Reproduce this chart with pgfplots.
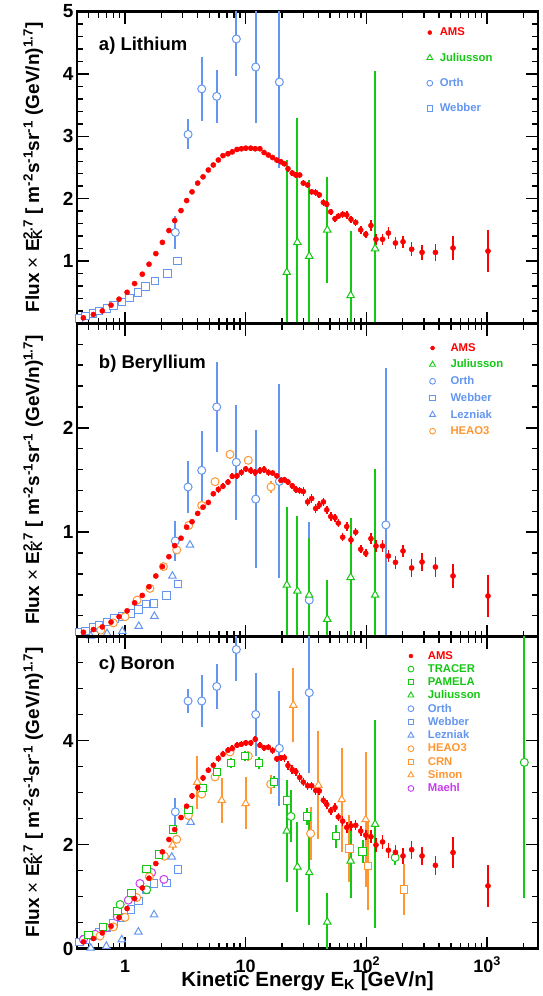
\documentclass[border=0pt]{standalone}
\usepackage{fontspec}
\setmainfont{Liberation Sans}
\usepackage{pgfplots}
\pgfplotsset{compat=1.18}

\definecolor{amsred}{RGB}{255,0,0}
\definecolor{jgreen}{RGB}{20,200,20}
\definecolor{oblue}{RGB}{100,150,240}
\definecolor{horange}{RGB}{255,150,50}
\definecolor{mpurple}{RGB}{200,60,240}

\newcommand{\ylab}{Flux {\mdseries×} E\makebox[0pt][l]{\textsubscript{K}}\textsuperscript{2.7} [ m\textsuperscript{-2}s\textsuperscript{-1}sr\textsuperscript{-1} (GeV/n)\textsuperscript{1.7}]}

\pgfplotsset{
  every axis/.append style={scale only axis, width=461pt, xmode=log, xmin=0.4, xmax=2640,
    xtick={1,10,100,1000},
    minor xtick={0.4,0.5,0.6,0.7,0.8,0.9,2,3,4,5,6,7,8,9,20,30,40,50,60,70,80,90,200,300,400,500,600,700,800,900,2000},
    tick align=inside,
    major tick length=12pt, minor tick length=6pt,
    tick style={black, line width=1.5pt},
    axis line style={line width=2.2pt},
    yticklabel style={font=\bfseries\fontsize{19}{19}\selectfont},
    xticklabel style={font=\bfseries\fontsize{18}{18}\selectfont},
    ylabel style={font=\bfseries\fontsize{19}{19}\selectfont, at={(axis description cs:-0.095,0.5)}, anchor=center},
    legend style={draw=none, fill=none, font=\bfseries\fontsize{11.3}{11.3}\selectfont, legend cell align=left, anchor=north west}},
  myams/.style={only marks, mark=*, mark size=2.6pt, color=amsred},
  myoc/.style={only marks, mark=*, mark size=4pt, mark options={fill=white, line width=1pt}},
  mysq/.style={only marks, mark=square*, mark size=3.7pt, mark options={fill=white, line width=1pt}},
  mytr/.style={only marks, mark=triangle*, mark size=4.3pt, mark options={fill=white, line width=1pt}},
  lgams/.style={only marks, mark=*, mark size=2pt, color=amsred},
  lgoc/.style={only marks, mark=o, mark size=2.9pt, line width=0.9pt},
  lgsq/.style={only marks, mark=square, mark size=2.8pt, line width=0.9pt},
  lgtr/.style={only marks, mark=triangle, mark size=3.4pt, line width=0.9pt},
}

\begin{document}
\begin{tikzpicture}
\useasboundingbox (0,0) rectangle (542pt,-996pt);

% ---------------- a) Lithium ----------------
\begin{axis}[at={(77pt,-323.5pt)}, anchor=south west, height=312pt,
  ymin=0, ymax=5, ytick={1,2,3,4,5}, yticklabels={1,2,3,4,5},
  minor ytick={0.2,0.4,0.6,0.8,1.2,1.4,1.6,1.8,2.2,2.4,2.6,2.8,3.2,3.4,3.6,3.8,4.2,4.4,4.6,4.8},
  xticklabels={,,,}, ylabel={\ylab},
  legend style={at={(rel axis cs:0.752,0.961)}, row sep=11.7pt, column sep=5pt}]
\addlegendimage{lgams}\addlegendentry{\textcolor{amsred}{AMS}}
\addlegendimage{lgtr, jgreen}\addlegendentry{\textcolor{jgreen}{Juliusson}}
\addlegendimage{lgoc, oblue}\addlegendentry{\textcolor{oblue}{Orth}}
\addlegendimage{lgsq, oblue}\addlegendentry{\textcolor{oblue}{Webber}}
\node[anchor=west, font=\bfseries\fontsize{18.5}{18.5}\selectfont] at (rel axis cs:0.04,0.89) {a) Lithium};

\addplot[mysq, oblue, forget plot] coordinates {
(0.416,0.08) (0.47,0.12) (0.54,0.16) (0.61,0.20) (0.71,0.24) (0.80,0.29) (0.94,0.34) (1.09,0.41) (1.28,0.50) (1.48,0.59) (1.77,0.68) (2.24,0.80) (2.73,1.00)};
\addplot[myoc, oblue, forget plot, error bars/.cd, y dir=both, y explicit, error mark=none, error bar style={line width=1.8pt}] coordinates {
(2.61,1.46)+-(0,0.26) (3.33,3.03)+-(0,0.24) (4.32,3.76)+-(0,0.51) (5.75,3.64)+-(0,0.43) (8.36,4.56)+-(0,0.6) (12.1,4.11)+-(0,0.9) (19.0,3.87)+-(0,1.38)};
\addplot[mytr, jgreen, forget plot, error bars/.cd, y dir=both, y explicit, error mark=none, error bar style={line width=1.8pt}] coordinates {
(21.9,0.82)+-(0,1.8) (26.8,1.30)+-(0,2.0) (33.6,1.08)+-(0,1.22) (47.4,1.50)+-(0,0.85) (74.0,0.45)+-(0,1.03) (118,1.20)+-(0,2.84)};
\addplot[myams, forget plot, error bars/.cd, y dir=both, y explicit, error mark=none, error bar style={line width=1.6pt}] coordinates {
(0.452,0.09)+-(0,0.02) (0.547,0.144)+-(0,0.02) (0.648,0.202)+-(0,0.02) (0.766,0.294)+-(0,0.02) (0.892,0.39)+-(0,0.02) (1.04,0.50)+-(0,0.02) (1.20,0.64)+-(0,0.02) (1.39,0.79)+-(0,0.02) (1.58,0.95)+-(0,0.02) (1.80,1.12)+-(0,0.02)
(2.04,1.30)+-(0,0.03) (2.31,1.49)+-(0,0.03) (2.58,1.65)+-(0,0.03) (2.91,1.81)+-(0,0.03) (3.24,1.97)+-(0,0.03) (3.59,2.11)+-(0,0.03) (4.00,2.25)+-(0,0.03) (4.43,2.35)+-(0,0.03) (4.90,2.46)+-(0,0.03) (5.39,2.54)+-(0,0.03) (5.93,2.62)+-(0,0.03) (6.48,2.69)+-(0,0.03)
(7.13,2.72)+-(0,0.04) (7.74,2.75)+-(0,0.04) (8.47,2.79)+-(0,0.04) (9.20,2.80)+-(0,0.04) (10.0,2.81)+-(0,0.04) (11.0,2.81)+-(0,0.04) (12.0,2.80)+-(0,0.04) (13.1,2.80)+-(0,0.04) (14.2,2.74)+-(0,0.04) (15.4,2.70)+-(0,0.04) (16.7,2.66)+-(0,0.04) (18.1,2.62)+-(0,0.04) (19.6,2.59)+-(0,0.04) (20.9,2.56)+-(0,0.04)
(22.4,2.48)+-(0,0.05) (24.3,2.41)+-(0,0.05) (26.0,2.38)+-(0,0.05) (28.0,2.38)+-(0,0.05) (30.0,2.25)+-(0,0.05) (32.6,2.22)+-(0,0.05) (35.2,2.11)+-(0,0.05) (38.0,2.10)+-(0,0.05) (40.7,2.06)+-(0,0.05) (44.0,1.94)+-(0,0.05) (46.9,1.91)+-(0,0.05) (50.6,1.79)+-(0,0.05) (54.9,1.68)+-(0,0.05) (58.5,1.72)+-(0,0.05)
(63.6,1.75)+-(0,0.06) (68.7,1.74)+-(0,0.06) (74.5,1.67)+-(0,0.06) (81.5,1.62)+-(0,0.06) (89.7,1.50)+-(0,0.06) (98.7,1.43)+-(0,0.06)
(109,1.57)+-(0,0.09) (120,1.35)+-(0,0.09) (136,1.35)+-(0,0.09) (152,1.45)+-(0,0.09) (174,1.29)+-(0,0.10) (201,1.31)+-(0,0.10) (237,1.19)+-(0,0.11) (289,1.14)+-(0,0.12) (373,1.14)+-(0,0.14) (522,1.21)+-(0,0.19) (1017,1.16)+-(0,0.34)};
\end{axis}

% ---------------- b) Beryllium ----------------
\begin{axis}[at={(77pt,-636.5pt)}, anchor=south west, height=313pt,
  ymin=0, ymax=3, ytick={1,2}, yticklabels={1,2},
  minor ytick={0.2,0.4,0.6,0.8,1.2,1.4,1.6,1.8,2.2,2.4,2.6,2.8},
  xticklabels={,,,}, ylabel={\ylab},
  legend style={at={(rel axis cs:0.758,0.95)}, row sep=3pt, column sep=13pt}]
\addlegendimage{lgams}\addlegendentry{\textcolor{amsred}{AMS}}
\addlegendimage{lgtr, jgreen}\addlegendentry{\textcolor{jgreen}{Juliusson}}
\addlegendimage{lgoc, oblue}\addlegendentry{\textcolor{oblue}{Orth}}
\addlegendimage{lgsq, oblue}\addlegendentry{\textcolor{oblue}{Webber}}
\addlegendimage{lgtr, oblue}\addlegendentry{\textcolor{oblue}{Lezniak}}
\addlegendimage{lgoc, horange}\addlegendentry{\textcolor{horange}{HEAO3}}
\node[anchor=west, font=\bfseries\fontsize{18.5}{18.5}\selectfont] at (rel axis cs:0.04,0.87) {b) Beryllium};

\addplot[mysq, oblue, forget plot] coordinates {
(0.416,0.041) (0.47,0.054) (0.54,0.087) (0.61,0.112) (0.71,0.141) (0.815,0.173) (0.94,0.19) (1.12,0.221) (1.29,0.26) (1.49,0.31) (1.74,0.317) (2.21,0.394) (2.75,0.503)};
\addplot[mytr, oblue, forget plot] coordinates {
(0.52,0.005) (0.71,0.029) (0.95,0.051) (1.30,0.099) (1.75,0.195) (2.47,0.58) (3.45,0.878)};
\addplot[myoc, horange, forget plot, error bars/.cd, y dir=both, y explicit, error mark=none, error bar style={line width=1.8pt}] coordinates {
(0.63,0.061)+-(0,0) (0.80,0.131)+-(0,0) (1.0,0.19)+-(0,0) (1.26,0.349)+-(0,0) (1.61,0.461)+-(0,0) (2.08,0.67)+-(0,0) (2.68,0.83)+-(0,0.02) (3.37,1.064)+-(0,0.02) (4.32,1.256)+-(0,0.02) (5.57,1.484)+-(0,0.03) (7.41,1.746)+-(0,0.04) (10.5,1.689)+-(0,0.04) (16.2,1.433)+-(0,0.06)};
\addplot[myoc, oblue, forget plot, error bars/.cd, y dir=both, y explicit, error mark=none, error bar style={line width=1.8pt}] coordinates {
(2.61,0.916)+-(0,0.195) (3.33,1.433)+-(0,0.245) (4.32,1.593)+-(0,0.375) (5.75,2.20)+-(0,0.43) (8.36,1.67)+-(0,0.55) (12.1,1.317)+-(0,0.66) (19.0,1.487)+-(0,0.93) (33.6,0.349)+-(0,0.75) (145,1.07)+-(0,1.5)};
\addplot[mytr, jgreen, forget plot, error bars/.cd, y dir=both, y explicit, error mark=none, error bar style={line width=1.8pt}] coordinates {
(21.9,0.493)+-(0,0.75) (26.8,0.436)+-(0,0.72) (33.6,0.397)+-(0,0.55) (47.4,0.166)+-(0,0.375) (74.0,0.567)+-(0,0.57) (118,0.397)+-(0,1.21)};
\addplot[myams, forget plot, error bars/.cd, y dir=both, y explicit, error mark=none, error bar style={line width=1.6pt}] coordinates {
(0.452,0.041)+-(0,0.015) (0.547,0.067)+-(0,0.015) (0.648,0.092)+-(0,0.015) (0.766,0.138)+-(0,0.015) (0.892,0.19)+-(0,0.015) (1.04,0.246)+-(0,0.015) (1.20,0.323)+-(0,0.015) (1.39,0.394)+-(0,0.015) (1.58,0.477)+-(0,0.015) (1.80,0.58)+-(0,0.015)
(2.04,0.67)+-(0,0.015) (2.31,0.765)+-(0,0.015) (2.58,0.871)+-(0,0.015) (2.91,0.942)+-(0,0.015) (3.24,1.048)+-(0,0.015) (3.59,1.10)+-(0,0.015) (4.00,1.18)+-(0,0.015) (4.43,1.24)+-(0,0.015) (4.90,1.285)+-(0,0.015) (5.39,1.368)+-(0,0.015)
(5.93,1.41)+-(0,0.03) (6.48,1.44)+-(0,0.03) (7.13,1.48)+-(0,0.03) (7.74,1.535)+-(0,0.03) (8.47,1.54)+-(0,0.03) (9.20,1.573)+-(0,0.03) (10.0,1.606)+-(0,0.03) (11.0,1.59)+-(0,0.03) (12.0,1.573)+-(0,0.03) (13.1,1.59)+-(0,0.03) (14.2,1.60)+-(0,0.03) (15.4,1.573)+-(0,0.03) (16.7,1.567)+-(0,0.03) (18.1,1.54)+-(0,0.03) (19.6,1.496)+-(0,0.03) (20.9,1.503)+-(0,0.03) (22.4,1.48)+-(0,0.03) (24.3,1.445)+-(0,0.03) (26.0,1.41)+-(0,0.03) (28.0,1.40)+-(0,0.03)
(30.0,1.39)+-(0,0.04) (32.6,1.29)+-(0,0.04) (35.2,1.323)+-(0,0.04) (38.0,1.227)+-(0,0.04) (40.7,1.26)+-(0,0.04) (44.0,1.29)+-(0,0.04) (46.9,1.214)+-(0,0.04) (50.6,1.15)+-(0,0.04) (54.9,1.138)+-(0,0.04) (58.5,1.087)+-(0,0.04) (63.6,0.952)+-(0,0.04) (68.7,1.054)+-(0,0.04) (74.5,0.926)+-(0,0.04) (81.5,1.00)+-(0,0.04) (89.7,0.836)+-(0,0.04) (98.7,0.798)+-(0,0.04)
(109,0.938)+-(0,0.055) (120,0.868)+-(0,0.055) (136,0.868)+-(0,0.055) (152,0.772)+-(0,0.055) (174,0.711)+-(0,0.06) (201,0.82)+-(0,0.06) (237,0.657)+-(0,0.085) (289,0.714)+-(0,0.085) (373,0.666)+-(0,0.10) (522,0.58)+-(0,0.115) (1017,0.388)+-(0,0.2)};
\end{axis}

% ---------------- c) Boron ----------------
\begin{axis}[at={(77pt,-948.5pt)}, anchor=south west, height=312pt,
  ymin=0, ymax=6, ytick={0,2,4}, yticklabels={0,2,4},
  minor ytick={0.5,1,1.5,2.5,3,3.5,4.5,5,5.5},
  xticklabels={1,10,10\textsuperscript{2},10\textsuperscript{3}},
  xticklabel style={anchor=base, yshift=-23.5pt},
  ylabel={\ylab},
  xlabel={Kinetic Energy E\textsubscript{K} [GeV/n]},
  xlabel style={font=\bfseries\fontsize{20.5}{20.5}\selectfont, at={(axis description cs:0.5,0)}, anchor=base, yshift=-38pt},
  legend style={at={(rel axis cs:0.711,0.966)}, row sep=-0.3pt, column sep=12pt}]
\addlegendimage{lgams}\addlegendentry{\textcolor{amsred}{AMS}}
\addlegendimage{lgoc, jgreen}\addlegendentry{\textcolor{jgreen}{TRACER}}
\addlegendimage{lgsq, jgreen}\addlegendentry{\textcolor{jgreen}{PAMELA}}
\addlegendimage{lgtr, jgreen}\addlegendentry{\textcolor{jgreen}{Juliusson}}
\addlegendimage{lgoc, oblue}\addlegendentry{\textcolor{oblue}{Orth}}
\addlegendimage{lgsq, oblue}\addlegendentry{\textcolor{oblue}{Webber}}
\addlegendimage{lgtr, oblue}\addlegendentry{\textcolor{oblue}{Lezniak}}
\addlegendimage{lgoc, horange}\addlegendentry{\textcolor{horange}{HEAO3}}
\addlegendimage{lgsq, horange}\addlegendentry{\textcolor{horange}{CRN}}
\addlegendimage{lgtr, horange}\addlegendentry{\textcolor{horange}{Simon}}
\addlegendimage{lgoc, mpurple}\addlegendentry{\textcolor{mpurple}{Maehl}}
\node[anchor=west, font=\bfseries\fontsize{18.5}{18.5}\selectfont] at (rel axis cs:0.04,0.91) {c) Boron};

\addplot[mysq, oblue, forget plot] coordinates {
(0.42,0.128) (0.47,0.17) (0.54,0.237) (0.61,0.32) (0.71,0.397) (0.80,0.481) (0.94,0.596) (1.12,0.75) (1.29,0.916) (1.49,1.12) (1.74,1.25) (2.21,1.262) (2.75,1.519)};
\addplot[mytr, oblue, forget plot] coordinates {
(0.52,0.01) (0.70,0.045) (0.94,0.17) (1.29,0.32) (1.74,0.65) (2.44,1.76) (3.5,2.43)};
\addplot[myoc, mpurple, forget plot] coordinates {
(0.452,0.173) (0.565,0.275) (0.705,0.40) (0.863,0.61) (1.065,0.93) (1.33,1.25) (1.66,1.46) (2.10,1.33)};
\addplot[myoc, horange, forget plot, error bars/.cd, y dir=both, y explicit, error mark=none, error bar style={line width=1.8pt}] coordinates {
(0.62,0.24)+-(0,0) (0.80,0.415)+-(0,0) (1.0,0.60)+-(0,0) (1.25,0.98)+-(0,0) (1.59,1.38)+-(0,0) (2.12,1.775)+-(0,0) (2.68,2.10)+-(0,0.05) (3.35,2.56)+-(0,0.05) (4.32,2.97)+-(0,0.06) (5.57,3.30)+-(0,0.07) (7.41,3.78)+-(0,0.08) (10.5,3.70)+-(0,0.1) (16.1,3.16)+-(0,0.18) (34.5,2.21)+-(0,0.51)};
\addplot[mysq, horange, forget plot, error bars/.cd, y dir=both, y explicit, error mark=none, error bar style={line width=1.8pt}] coordinates {
(72.2,1.92)+-(0,0.64) (102.5,1.59)+-(0,0.85) (205,1.135)+-(0,0.49)};
\addplot[mytr, horange, forget plot, error bars/.cd, y dir=both, y explicit, error mark=none, error bar style={line width=1.8pt}] coordinates {
(2.48,1.99)+-(0,0.1) (3.97,3.20)+-(0,0.51) (6.32,2.85)+-(0,0.43) (10.0,2.79)+-(0,0.5) (24.8,4.68)+-(0,0.71) (40.0,3.14)+-(0,1.04) (62.4,2.865)+-(0,1.0) (98.6,2.48)+-(0,1.3)};
\addplot[mysq, jgreen, forget plot, error bars/.cd, y dir=both, y explicit, error mark=none, error bar style={line width=1.8pt}] coordinates {
(0.497,0.256)+-(0,0) (0.66,0.415)+-(0,0) (0.863,0.717)+-(0,0) (1.135,1.07)+-(0,0) (1.51,1.53)+-(0,0) (1.92,1.81)+-(0,0) (2.51,2.29)+-(0,0.04) (3.35,2.66)+-(0,0.05) (4.45,3.09)+-(0,0.08) (5.75,3.39)+-(0,0.08) (7.51,3.57)+-(0,0.09) (9.87,3.70)+-(0,0.1) (12.9,3.57)+-(0,0.11) (17.1,3.20)+-(0,0.12) (22.1,2.85)+-(0,0.15) (32.2,2.54)+-(0,0.17) (55.7,2.16)+-(0,0.22) (93.1,1.865)+-(0,0.22)};
\addplot[myoc, jgreen, forget plot, error bars/.cd, y dir=both, y explicit, error mark=none, error bar style={line width=1.8pt}] coordinates {
(0.91,0.846)+-(0,0) (1.51,1.13)+-(0,0) (23.7,2.54)+-(0,0.5) (173,1.75)+-(0,0.15) (2033,3.58)+-(0,2.6)};
\addplot[mytr, jgreen, forget plot, error bars/.cd, y dir=both, y explicit, error mark=none, error bar style={line width=1.8pt}] coordinates {
(21.9,2.26)+-(0,0.99) (26.8,1.57)+-(0,0.86) (33.6,1.46)+-(0,1.0) (47.4,0.51)+-(0,0.55) (74.0,1.685)+-(0,0.72) (118,2.39)+-(0,2.0)};
\addplot[myoc, oblue, forget plot, error bars/.cd, y dir=both, y explicit, error mark=none, error bar style={line width=1.8pt}] coordinates {
(2.61,2.628)+-(0,0.27) (3.33,4.76)+-(0,0.24) (4.32,4.76)+-(0,0.5) (5.75,5.04)+-(0,0.43) (8.36,5.75)+-(0,0.6) (12.1,4.50)+-(0,0.8) (19.0,3.85)+-(0,1.1) (33.6,4.92)+-(0,1.55)};
\addplot[myams, forget plot, error bars/.cd, y dir=both, y explicit, error mark=none, error bar style={line width=1.6pt}] coordinates {
(0.452,0.128)+-(0,0.03) (0.547,0.192)+-(0,0.03) (0.648,0.30)+-(0,0.03) (0.766,0.429)+-(0,0.03) (0.892,0.596)+-(0,0.03) (1.04,0.769)+-(0,0.03) (1.20,0.96)+-(0,0.03) (1.39,1.166)+-(0,0.03) (1.58,1.352)+-(0,0.03) (1.80,1.634)+-(0,0.03)
(2.04,1.858)+-(0,0.03) (2.31,2.096)+-(0,0.03) (2.58,2.288)+-(0,0.03) (2.91,2.519)+-(0,0.03) (3.24,2.737)+-(0,0.03) (3.59,2.935)+-(0,0.06) (4.00,3.096)+-(0,0.06) (4.43,3.281)+-(0,0.06) (4.90,3.429)+-(0,0.06) (5.39,3.525)+-(0,0.06)
(5.93,3.654)+-(0,0.06) (6.48,3.737)+-(0,0.06) (7.13,3.813)+-(0,0.06) (7.74,3.846)+-(0,0.06) (8.47,3.91)+-(0,0.06) (9.20,3.929)+-(0,0.06) (10.0,3.955)+-(0,0.06) (11.0,3.955)+-(0,0.06) (12.0,4.025)+-(0,0.06) (13.1,3.91)+-(0,0.06)
(14.2,3.86)+-(0,0.06) (15.4,3.87)+-(0,0.06) (16.7,3.81)+-(0,0.06) (18.1,3.65)+-(0,0.06) (19.6,3.67)+-(0,0.06) (20.9,3.67)+-(0,0.08) (22.4,3.52)+-(0,0.08) (24.3,3.44)+-(0,0.08) (26.0,3.40)+-(0,0.08) (28.0,3.29)+-(0,0.08)
(30.0,3.20)+-(0,0.08) (32.6,3.13)+-(0,0.08) (35.2,3.13)+-(0,0.08) (38.0,3.04)+-(0,0.08) (40.7,3.03)+-(0,0.08) (44.0,2.85)+-(0,0.08) (46.9,2.77)+-(0,0.08) (50.6,2.65)+-(0,0.08) (54.9,2.71)+-(0,0.08) (58.5,2.53)+-(0,0.08)
(63.6,2.45)+-(0,0.1) (68.7,2.33)+-(0,0.1) (74.5,2.36)+-(0,0.1) (81.5,2.37)+-(0,0.1) (89.7,2.26)+-(0,0.1) (98.7,2.18)+-(0,0.1)
(109,2.15)+-(0,0.13) (120,1.99)+-(0,0.13) (136,2.05)+-(0,0.14) (152,1.89)+-(0,0.14) (174,1.85)+-(0,0.15) (201,1.78)+-(0,0.15) (237,1.90)+-(0,0.17) (289,1.78)+-(0,0.17) (373,1.60)+-(0,0.18) (522,1.846)+-(0,0.3) (1017,1.204)+-(0,0.4)};
\end{axis}
\end{tikzpicture}
\end{document}
